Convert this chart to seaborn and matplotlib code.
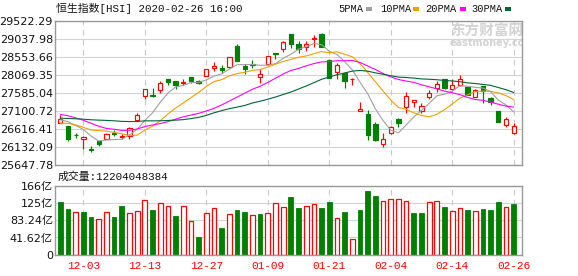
import numpy as np
import pandas as pd
import matplotlib
matplotlib.use("Agg")
import matplotlib.pyplot as plt
from matplotlib.patches import Rectangle
import seaborn as sns

# ---------------- data ----------------
dates = ["11-28", "11-29",
         "12-02", "12-03", "12-04", "12-05", "12-06", "12-09", "12-10", "12-11", "12-12", "12-13",
         "12-16", "12-17", "12-18", "12-19", "12-20", "12-23", "12-24", "12-27", "12-30", "12-31",
         "01-02", "01-03", "01-06", "01-07", "01-08", "01-09", "01-10", "01-13", "01-14", "01-15",
         "01-16", "01-17", "01-20", "01-21", "01-22", "01-23", "01-24", "01-29", "01-30", "01-31",
         "02-03", "02-04", "02-05", "02-06", "02-07", "02-10", "02-11", "02-12", "02-13", "02-14",
         "02-17", "02-18", "02-19", "02-20", "02-21", "02-24", "02-25", "02-26"]

opens = [26778, 26697, 26455, 26356, 26087, 26284, 26356, 26509, 26392, 26428,
         26850, 27513, 27540, 27657, 27953, 27899, 27845, 28007, 27908, 28051,
         28249, 28267, 28276, 28859, 28320, 28356, 28025, 28374, 28652, 28769,
         29172, 28903, 28832, 29047, 29172, 28473, 28141, 28132, 27953, 27109,
         27011, 26751, 26204, 26500, 26876, 27199, 27352, 27109, 27486, 27719,
         27953, 27701, 27791, 27737, 27486, 27773, 27459, 27100, 26715, 26500]
highs = [26993, 26700, 26517, 26428, 26168, 26290, 26517, 26590, 26482, 26661,
         27047, 27701, 27719, 27908, 27960, 27905, 27953, 28015, 27935, 28230,
         28409, 28329, 28560, 28903, 28365, 28473, 28222, 28580, 28655, 28993,
         29180, 28984, 28993, 29136, 29208, 28509, 28401, 28150, 27989, 27343,
         27127, 26805, 26500, 26697, 26903, 27620, 27400, 27307, 27665, 27907,
         27965, 27953, 28069, 27745, 27683, 27780, 27486, 27105, 26930, 26769]
lows = [26770, 26302, 26374, 26069, 25997, 26150, 26338, 26437, 26356, 26356,
        26840, 27414, 27486, 27576, 27791, 27684, 27809, 27854, 27827, 28045,
        28185, 28132, 28270, 28440, 28087, 28267, 27863, 28350, 28509, 28697,
        28805, 28652, 28724, 28832, 28814, 27995, 27953, 27729, 27791, 27105,
        26320, 26300, 26141, 26495, 26661, 27037, 27217, 27055, 27432, 27620,
        27705, 27695, 27785, 27530, 27468, 27325, 27271, 26810, 26679, 26495]
closes = [26885, 26347, 26446, 26392, 26062, 26221, 26490, 26490, 26437, 26640,
          26985, 27683, 27515, 27845, 27890, 27805, 27875, 27912, 27863, 28222,
          28320, 28195, 28545, 28455, 28228, 28330, 28092, 28570, 28643, 28950,
          28890, 28770, 28890, 29065, 28810, 28000, 28350, 27915, 27960, 27155,
          26448, 26308, 26356, 26665, 26790, 27500, 27400, 27238, 27588, 27820,
          27720, 27812, 27955, 27535, 27660, 27630, 27330, 26815, 26888, 26690]

ma5 = [26865, 26815, 26710, 26605, 26426, 26294, 26322, 26331, 26340, 26456,
       26608, 26847, 27052, 27334, 27584, 27748, 27786, 27865, 27869, 27935,
       28038, 28102, 28229, 28347, 28349, 28351, 28330, 28335, 28373, 28517,
       28629, 28765, 28829, 28913, 28885, 28707, 28623, 28428, 28207, 27876,
       27566, 27157, 26845, 26586, 26513, 26724, 26942, 27119, 27303, 27509,
       27553, 27636, 27779, 27768, 27736, 27718, 27622, 27394, 27265, 27071]
ma10 = [26775, 26767, 26728, 26662, 26590, 26572, 26558, 26528, 26487, 26441,
        26451, 26585, 26692, 26837, 27020, 27178, 27317, 27459, 27601, 27760,
        27893, 27944, 28047, 28108, 28142, 28195, 28216, 28282, 28360, 28433,
        28490, 28547, 28582, 28643, 28701, 28668, 28694, 28628, 28560, 28381,
        28136, 27890, 27637, 27397, 27195, 27145, 27050, 26982, 26945, 27011,
        27139, 27289, 27449, 27536, 27623, 27636, 27629, 27587, 27517, 27404]
ma20 = [27010, 26972, 26917, 26852, 26771, 26690, 26632, 26610, 26579, 26582,
        26615, 26683, 26725, 26763, 26813, 26880, 26944, 26990, 27037, 27100,
        27172, 27264, 27369, 27473, 27581, 27686, 27766, 27870, 27981, 28096,
        28191, 28246, 28315, 28376, 28422, 28431, 28455, 28455, 28460, 28407,
        28313, 28219, 28109, 28020, 27948, 27906, 27872, 27805, 27752, 27696,
        27637, 27590, 27543, 27466, 27409, 27390, 27339, 27284, 27231, 27207]
ma30 = [26908, 26898, 26891, 26881, 26865, 26855, 26848, 26837, 26822, 26817,
        26818, 26836, 26836, 26838, 26846, 26855, 26868, 26897, 26929, 26983,
        27052, 27110, 27164, 27205, 27250, 27316, 27364, 27418, 27477, 27544,
        27611, 27692, 27774, 27863, 27954, 28014, 28076, 28123, 28174, 28191,
        28173, 28127, 28089, 28049, 28013, 28002, 27987, 27964, 27955, 27942,
        27922, 27909, 27889, 27858, 27840, 27816, 27791, 27732, 27674, 27598]

volumes = [127.1, 110.2, 102.1, 102.9, 90.9, 85.2, 102.9, 90.9, 117.4, 99.7,
           104.5, 131.1, 107.8, 123.8, 116.6, 93.3, 116.6, 80.4, 42.6, 99.7,
           111.8, 64.3, 97.3, 107.8, 102.9, 94.9, 98.1, 99.7, 123.8, 114.2,
           138.3, 112.6, 116.6, 122.2, 112.6, 127.1, 87.7, 102.9, 37.0, 107.8,
           153.6, 142.3, 128.7, 133.5, 133.5, 128.7, 100.5, 100.5, 126.3, 128.7,
           115.0, 104.5, 111.8, 107.8, 104.5, 110.2, 107.8, 127.1, 114.2, 122.04]
# U = bar drawn red (close above previous close), D = green
vol_dir = "DDUDDUUDDUUUDUUDUUDUUDUDDUDUUUDDUUDDUDUDDDUUUUDDUUDUUDUDDDUD"

price_ticks = [25647.78, 26132.09, 26616.41, 27100.72, 27585.04,
               28069.35, 28553.66, 29037.98, 29522.29]
vol_ticks = [0, 41.62, 83.24, 124.86, 166.48]
vol_tick_labels = ["0", "41.62亿", "83.24亿", "125亿", "166亿"]
xtick_labels = ["12-03", "12-13", "12-27", "01-09", "01-21", "02-04", "02-14", "02-26"]

ma_names = ["5PMA", "10PMA", "20PMA", "30PMA"]
ma_colors = ["#a0a0a0", "#f0a000", "#ff00ff", "#006633"]

title = "恒生指数[HSI] 2020-02-26 16:00"
vol_title = "成交量:12204048384"

# ---------------- style ----------------
sns.set_style("white")
plt.rcParams["font.family"] = ["DejaVu Sans", "Noto Sans CJK SC"]
MONO = ["Liberation Mono", "Noto Sans CJK SC"]
UP, DN = "#ff0000", "#008000"
FRAME = "#999999"
GRID = "#d4d4d4"

W, H = 578, 276
fig = plt.figure(figsize=(W / 100, H / 100), dpi=100)
fig.patch.set_facecolor("white")
ax = fig.add_axes([55 / W, 1 - 165 / H, 467 / W, 144 / H])
axv = fig.add_axes([55 / W, 1 - 254.7 / H, 467 / W, 69 / H])

n = len(dates)
x = np.arange(n)
tick_pos = [dates.index(d) for d in xtick_labels]
xlim = (-0.69, n - 1 + 1.08)

# ---------------- price panel ----------------
for v in price_ticks:
    ax.axhline(v, color=GRID, lw=0.8, zorder=0)
for p in tick_pos:
    ax.axvline(p, color="#c8c8c8", lw=0.8, ls=(0, (5, 4)), zorder=0)

# watermark (axes-fraction coordinates)
ax.text((450 - 55) / 467, (165 - 31) / 144, "东方财富网", transform=ax.transAxes,
        color="#d3d3d3", fontsize=10.5, fontweight="bold", family=["Noto Sans CJK SC"],
        va="center", ha="left", zorder=1, clip_on=True)
ax.text((450 - 55) / 467, (165 - 43.5) / 144, "eastmoney.com", transform=ax.transAxes,
        color="#d3d3d3", fontsize=7, fontweight="bold", va="center", ha="left",
        zorder=1, clip_on=True)

o = np.array(opens, float); c = np.array(closes, float)
hi = np.array(highs, float); lo = np.array(lows, float)
up = c >= o
cols = np.where(up, UP, DN)
ax.vlines(x, lo, hi, colors=cols, lw=0.85, zorder=2)
bottoms = np.minimum(o, c)
heights = np.maximum(np.abs(c - o), 6)
ax.bar(x, heights, bottom=bottoms, width=0.56,
       color=np.where(up, "white", DN), edgecolor=cols, lw=0.85, zorder=3)

ma_df = pd.DataFrame({"idx": x, "5PMA": ma5, "10PMA": ma10, "20PMA": ma20, "30PMA": ma30})
ma_long = ma_df.melt(id_vars="idx", var_name="ma", value_name="value")
sns.lineplot(data=ma_long, x="idx", y="value", hue="ma", hue_order=ma_names,
             palette=ma_colors, lw=0.8, legend=False, ax=ax, zorder=4)

ax.set_xlim(*xlim)
ax.set_ylim(price_ticks[0], price_ticks[-1])
ax.set_yticks(price_ticks)
ax.set_yticklabels([f"{v:.2f}" for v in price_ticks])
ax.set_xticks([])
ax.set_xlabel(""); ax.set_ylabel("")
ax.tick_params(axis="y", length=0, pad=1.5, labelsize=8, labelcolor="#111111")

# ---------------- volume panel ----------------
for v in vol_ticks:
    axv.axhline(v, color=GRID, lw=0.8, zorder=0)
for p in tick_pos:
    axv.axvline(p, color="#c8c8c8", lw=0.8, ls=(0, (5, 4)), zorder=0)

vol_df = pd.DataFrame({"idx": x, "vol": volumes})
sns.barplot(data=vol_df, x="idx", y="vol", color=DN, width=0.62,
            native_scale=True, errorbar=None, ax=axv, zorder=2)
for patch in axv.patches:
    i = int(round(patch.get_x() + patch.get_width() / 2))
    if vol_dir[i] == "U":
        patch.set_facecolor("white")
        patch.set_edgecolor(UP)
        patch.set_linewidth(0.9)
    else:
        patch.set_facecolor(DN)
        patch.set_edgecolor(DN)
        patch.set_linewidth(0.6)

axv.set_xlim(*xlim)
axv.set_ylim(0, vol_ticks[-1])
axv.set_yticks(vol_ticks)
axv.set_yticklabels(vol_tick_labels)
axv.set_xticks(tick_pos)
axv.set_xticklabels(xtick_labels, family=MONO, fontsize=8, color=UP)
axv.set_xlabel(""); axv.set_ylabel("")
axv.tick_params(axis="y", length=0, pad=1.5, labelsize=8, labelcolor="#111111")
axv.tick_params(axis="x", length=0, pad=4.5)

for a in (ax, axv):
    for s in a.spines.values():
        s.set_color(FRAME)
        s.set_linewidth(1.0)
        s.set_visible(True)

# ---------------- texts / legend ----------------
fig.text(56 / W, 1 - 8.5 / H, title, family=MONO, fontsize=7.8, va="center", ha="left",
         color="#111111")
fig.text(58 / W, 1 - 177 / H, vol_title, family=MONO, fontsize=7.8, va="center", ha="left",
         color="#111111")

leg_x = [338, 380, 425.5, 471.5]
sq_x = [366, 413, 460, 505]
for name, col, tx, sx in zip(ma_names, ma_colors, leg_x, sq_x):
    fig.text(tx / W, 1 - 8.5 / H, name, family=MONO, fontsize=7.5, va="center", ha="left",
             color="#111111")
    fig.add_artist(Rectangle((sx / W, 1 - 10.5 / H), 5.5 / W, 3.5 / H,
                             transform=fig.transFigure, facecolor=col, edgecolor="none"))

fig.savefig("out.png", dpi=100, facecolor="white")
